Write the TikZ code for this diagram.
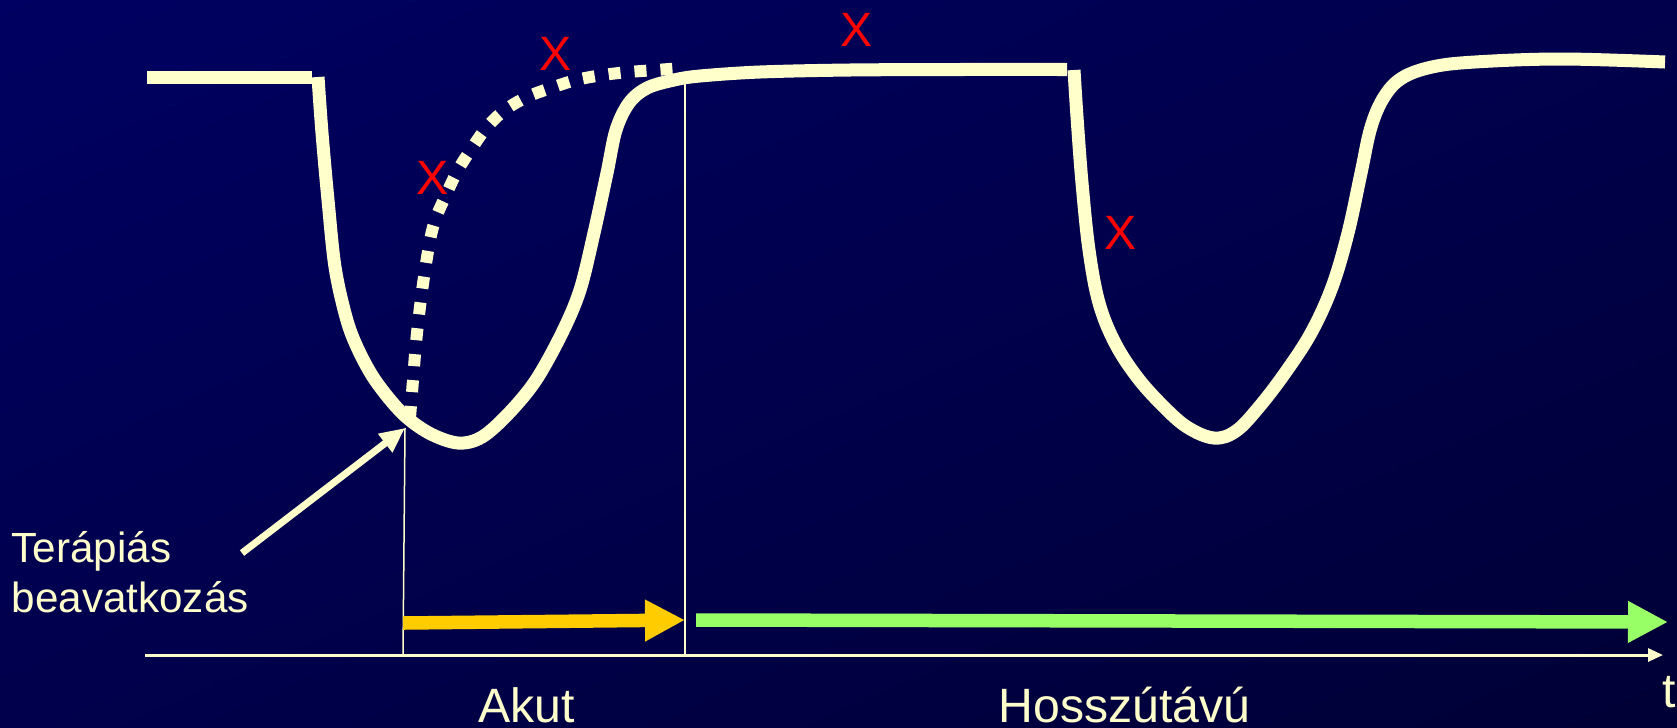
\documentclass[tikz,border=0pt]{standalone}
\usepackage{fontspec}
\setmainfont{Liberation Sans}
\usetikzlibrary{arrows.meta, positioning, shadings}
\definecolor{cream}{RGB}{255,255,204}
\definecolor{bgtop}{RGB}{0,0,98}
\definecolor{bgmid}{RGB}{0,0,76}
\definecolor{bgbot}{RGB}{0,0,54}
\definecolor{acuteyellow}{RGB}{255,204,0}
\definecolor{longgreen}{RGB}{153,255,102}
\newcommand{\bigfont}{\fontsize{13.7}{16}\selectfont}
\newcommand{\smallfont}{\fontsize{12}{14.2}\selectfont}
\tikzset{
    response/.style={draw=cream, line width=0.13cm},
    untreated/.style={draw=cream, line width=0.12cm, dash pattern=on 0.12cm off 0.14cm},
    guide/.style={draw=cream, line width=0.015cm},
    taxis/.style={draw=cream, line width=0.03cm, -{Triangle[length=0.15cm, width=0.13cm]}},
    pointer/.style={draw=cream, line width=0.07cm, -{Triangle[length=0.25cm, width=0.22cm]}},
    phase/.style={line width=0.135cm, -{Triangle[length=0.4cm, width=0.39cm]}},
    notetext/.style={text=cream, font=\smallfont, inner sep=0pt, anchor=base west},
    phasetext/.style={text=cream, font=\bigfont, inner sep=0pt, anchor=base west},
    failmark/.style={text=red, font=\bigfont, inner sep=0pt}
}

\begin{document}
\begin{tikzpicture}[x=0.01cm, y=-0.01cm]
    % Background
    \shade[upper left=bgtop, upper right=bgmid, lower left=bgmid, lower right=bgbot]
        (0,0) rectangle (1677,727);
    \useasboundingbox (0,0) rectangle (1677,727);

    % Time axis
    \coordinate (t0) at (145,655);
    \coordinate (t1) at (1663,655);
    \draw[taxis] (t0) -- (t1);

    % Phase boundaries
    \coordinate (interv) at (405,428);
    \coordinate (interv base) at (403,655);
    \coordinate (recov) at (685,80);
    \coordinate (recov base) at (685,657);
    \draw[guide] (interv) -- (interv base);
    \draw[guide] (recov) -- (recov base);

    % Response curve
    \draw[response] (147,77) -- (312,77);
    \draw[response] plot[smooth, tension=0.55] coordinates {
        (318,77) (322,133) (328,200) (335,267) (346,317) (357,347) (375,380)
        (402,413) (429,433) (458,443) (482,437) (509,413) (536,380) (562,333)
        (580,290) (594,233) (607,173) (616,130) (629,103) (647,88) (674,80)
        (700,76) (760,72) (850,70) (960,69.5) (1067,69.5)};
    \draw[response] plot[smooth, tension=0.6] coordinates {
        (1074,70) (1077,117) (1082,183) (1089,250) (1099,303) (1115,343)
        (1137,377) (1162,405) (1187,427) (1214,438) (1236,431) (1259,407)
        (1285,373) (1311,333) (1332,287) (1348,233) (1361,173) (1371,127)
        (1384,97) (1402,78) (1432,67) (1475,62) (1561,59) (1665,62)};

    % Untreated course
    \draw[untreated] plot[smooth, tension=0.6] coordinates {
        (410,418) (413,380) (417,333) (424,277) (433,227) (446,195) (458,170)
        (472,148) (487,127) (505,110) (527,97) (551,88) (576,80) (603,75)
        (629,72) (656,70) (682,68)};

    % Phase arrows
    \coordinate (acute start) at (403,623);
    \coordinate (acute end) at (685,620);
    \coordinate (long start) at (696,620);
    \coordinate (long end) at (1668,622);
    \draw[phase, acuteyellow] (acute start) -- (acute end);
    \draw[phase, longgreen] (long start) -- (long end);

    % Labels
    \node[notetext] (ter) at (11,562) {Terápiás};
    \node[notetext, below=0.5cm of ter.base west, anchor=base west] (beav) {beavatkozás};
    \node[phasetext] (akut) at (478,722) {Akut};
    \node[phasetext] (hossz) at (998,722) {Hosszútávú};
    \node[phasetext] (tlabel) at (1662,707) {t};

    \coordinate (ptail) at (242,553);
    \draw[pointer] (ptail) -- (interv);

    % Markers
    \node[failmark] (x1) at (556,54) {X};
    \node[failmark] (x2) at (433,178) {X};
    \node[failmark] (x3) at (857,30) {X};
    \node[failmark] (x4) at (1121,233) {X};
\end{tikzpicture}
\end{document}
